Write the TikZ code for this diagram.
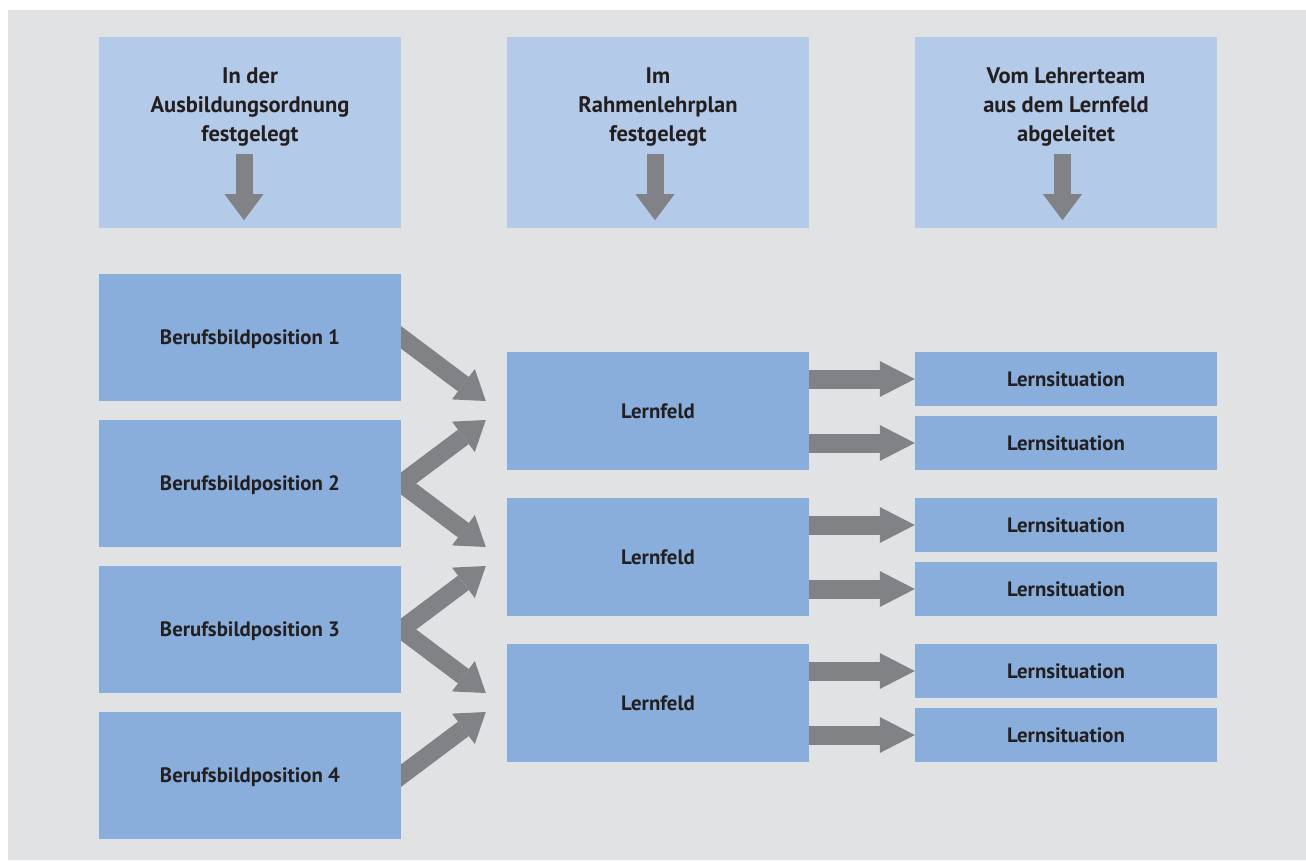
\documentclass[tikz,border=0pt]{standalone}
\usepackage{fontspec}
\setmainfont{PT Sans}
\usetikzlibrary{arrows.meta,calc}
\definecolor{bggrey}{HTML}{E1E2E4}
\definecolor{toplight}{HTML}{B4CAE9}
\definecolor{boxblue}{HTML}{8AAEDC}
\definecolor{arrgrey}{HTML}{818285}
\definecolor{txt}{HTML}{231F20}
\pgfdeclarelayer{back}
\pgfdeclarelayer{mid}
\pgfsetlayers{back,mid,main}
\tikzset{
  every node/.style={font=\bfseries\fontsize{20.8}{29}\selectfont, text=txt},
  topbox/.style={fill=toplight, inner sep=0pt, minimum width=302pt, minimum height=191pt},
  bluebox/.style={fill=boxblue, inner sep=0pt, minimum width=302pt, text depth=0pt},
  lbl/.style={align=center, inner sep=0pt, yshift=-3pt, font=\bfseries\fontsize{22.5}{29}\selectfont},
  fatarrow/.style={draw=arrgrey, line width=18pt, -{Triangle[length=28pt,width=38pt,line width=0pt]}},
  sidearrow/.style={draw=arrgrey, line width=19pt, -{Triangle[length=35pt,width=36pt,line width=0pt]}},
  downarrow/.style={draw=arrgrey, line width=17pt, -{Triangle[length=26pt,width=39pt,line width=0pt]}},
}
\begin{document}
\begin{tikzpicture}[x=1pt,y=-1pt]
\useasboundingbox (0,0) rectangle (1306,860);
\begin{pgfonlayer}{back}
\fill[bggrey] (8,10) rectangle (1306,860);
\end{pgfonlayer}
% top boxes
\node[topbox] (t1) at (250,132.5) {};
\node[topbox] (t2) at (658,132.5) {};
\node[topbox] (t3) at (1066,132.5) {};
\node[lbl] (t1l) at (250,104) {In der\\Ausbildungsordnung\\festgelegt};
\node[lbl] (t2l) at (658,104) {Im\\Rahmenlehrplan\\festgelegt};
\node[lbl] (t3l) at (1066,104) {Vom Lehrerteam\\aus dem Lernfeld\\abgeleitet};
\coordinate (d1s) at ($(t1.south)+(-6,-74)$);
\coordinate (d1e) at ($(t1.south)+(-6,-8)$);
\coordinate (d2s) at ($(t2.south)+(-3,-74)$);
\coordinate (d2e) at ($(t2.south)+(-3,-8)$);
\coordinate (d3s) at ($(t3.south)+(-3.5,-74)$);
\coordinate (d3e) at ($(t3.south)+(-3.5,-8)$);
\draw[downarrow] (d1s) -- (d1e);
\draw[downarrow] (d2s) -- (d2e);
\draw[downarrow] (d3s) -- (d3e);
% left boxes
\node[bluebox, minimum height=127pt] (b1) at (250,337.5) {Berufsbildposition 1};
\node[bluebox, minimum height=127pt] (b2) at (250,483.5) {Berufsbildposition 2};
\node[bluebox, minimum height=127pt] (b3) at (250,629.5) {Berufsbildposition 3};
\node[bluebox, minimum height=127pt] (b4) at (250,775.5) {Berufsbildposition 4};
% Lernfelder
\node[bluebox, minimum height=118pt] (f1) at (658,411) {Lernfeld};
\node[bluebox, minimum height=118pt] (f2) at (658,557) {Lernfeld};
\node[bluebox, minimum height=118pt] (f3) at (658,703) {Lernfeld};
% Lernsituationen
\node[bluebox, minimum height=54pt] (s1) at (1066,379) {Lernsituation};
\node[bluebox, minimum height=54pt] (s2) at (1066,443) {Lernsituation};
\node[bluebox, minimum height=54pt] (s3) at (1066,525) {Lernsituation};
\node[bluebox, minimum height=54pt] (s4) at (1066,589) {Lernsituation};
\node[bluebox, minimum height=54pt] (s5) at (1066,671) {Lernsituation};
\node[bluebox, minimum height=54pt] (s6) at (1066,735) {Lernsituation};
% arrow targets
\coordinate (f1u) at ($(f1.west)+(-21,-10)$);
\coordinate (f1d) at ($(f1.west)+(-21,9)$);
\coordinate (f2u) at ($(f2.west)+(-21,-10)$);
\coordinate (f2d) at ($(f2.west)+(-21,9)$);
\coordinate (f3u) at ($(f3.west)+(-21,-10)$);
\coordinate (f3d) at ($(f3.west)+(-21,9)$);
\begin{pgfonlayer}{mid}
\draw[fatarrow] ($(b1.east)!-15pt!(f1u)$) -- (f1u);
\draw[fatarrow] ($(b2.east)!-15pt!(f1d)$) -- (f1d);
\draw[fatarrow] ($(b2.east)!-15pt!(f2u)$) -- (f2u);
\draw[fatarrow] ($(b3.east)!-15pt!(f2d)$) -- (f2d);
\draw[fatarrow] ($(b3.east)!-15pt!(f3u)$) -- (f3u);
\draw[fatarrow] ($(b4.east)!-15pt!(f3d)$) -- (f3d);
\end{pgfonlayer}
\draw[sidearrow] (f1.east |- s1.west) -- (s1.west);
\draw[sidearrow] (f1.east |- s2.west) -- (s2.west);
\draw[sidearrow] (f2.east |- s3.west) -- (s3.west);
\draw[sidearrow] (f2.east |- s4.west) -- (s4.west);
\draw[sidearrow] (f3.east |- s5.west) -- (s5.west);
\draw[sidearrow] (f3.east |- s6.west) -- (s6.west);
\end{tikzpicture}
\end{document}
